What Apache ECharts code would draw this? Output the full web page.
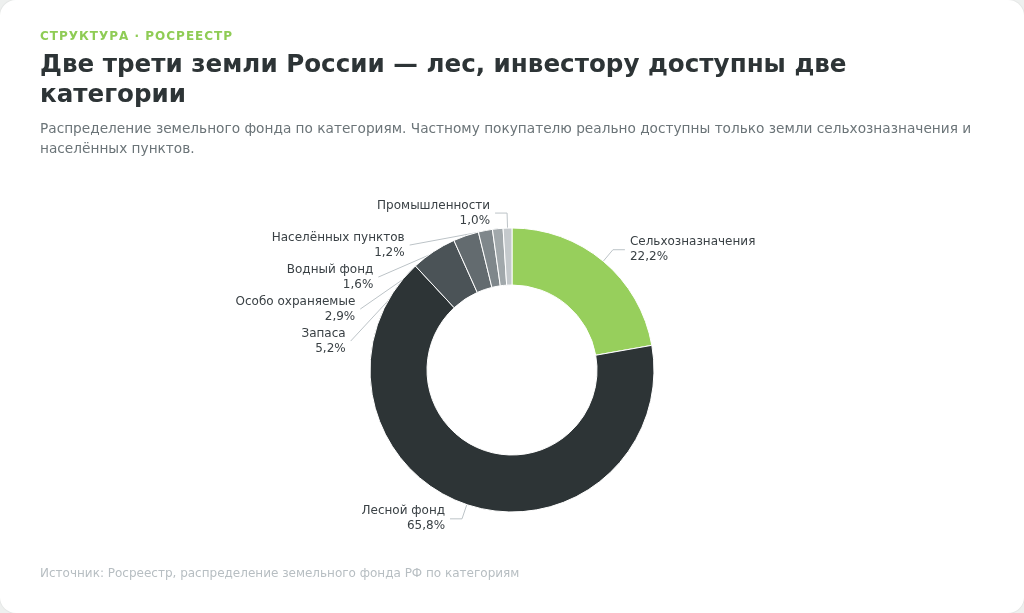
<!DOCTYPE html>
<html lang="ru">
<head>
<meta charset="utf-8">
<script src="https://cdn.jsdelivr.net/npm/echarts@6/dist/echarts.min.js"></script>
<style>
  html, body { margin: 0; padding: 0; background: #eef0ef; }
  body { width: 1024px; height: 613px; font-family: 'DejaVu Sans', sans-serif; }
  .card {
    position: absolute; left: 0; top: 0; width: 1024px; height: 613px;
    background: #fff; border-radius: 16px; box-sizing: border-box;
    box-shadow: 0 0 0 1px #e6e8e7;
  }
  .kicker {
    position: absolute; left: 40px; top: 29px;
    font-size: 12px; font-weight: bold; letter-spacing: 1px; color: #8fcc55;
  }
  .title {
    position: absolute; left: 40px; top: 49px; width: 944px;
    font-size: 24.6px; font-weight: bold; line-height: 30px; color: #2d3436;
  }
  .sub {
    position: absolute; left: 40px; top: 118px; width: 960px;
    font-size: 13.7px; line-height: 20px; color: #6b7478;
  }
  .foot {
    position: absolute; left: 40px; top: 566px;
    font-size: 12px; color: #b7bec2;
  }
  #chart { position: absolute; left: 0; top: 0; width: 1024px; height: 613px; }
</style>
</head>
<body>
<div class="card"></div>
<div id="chart"></div>
<div class="kicker">СТРУКТУРА · РОСРЕЕСТР</div>
<div class="title">Две трети земли России — лес, инвестору доступны две категории</div>
<div class="sub">Распределение земельного фонда по категориям. Частному покупателю реально доступны только земли сельхозназначения и населённых пунктов.</div>
<div class="foot">Источник: Росреестр, распределение земельного фонда РФ по категориям</div>
<script>
// land categories, share of total land fund, %
var categories = ['Сельхозназначения', 'Лесной фонд', 'Запаса', 'Особо охраняемые', 'Водный фонд', 'Населённых пунктов', 'Промышленности'];
var shares = [22.2, 65.8, 5.2, 2.9, 1.6, 1.2, 1.0];
var colors = ['#97cf5c', '#2d3436', '#4b5357', '#636b6f', '#7f878b', '#a1a8ab', '#c4c9cc'];

var chartDom = document.getElementById('chart');
var myChart = echarts.init(chartDom);
var option;

option = {
  animation: false,
  textStyle: { fontFamily: 'DejaVu Sans' },
  series: [
    {
      type: 'pie',
      center: [512, 370],
      radius: [85, 142],
      startAngle: 90,
      clockwise: true,
      itemStyle: { borderColor: '#fff', borderWidth: 1 },
      label: {
        fontSize: 12,
        lineHeight: 15,
        color: '#3a4145',
        formatter: function (p) {
          return p.name + '\n' + p.value.toFixed(1).replace('.', ',') + '%';
        }
      },
      labelLine: {
        length: 15,
        length2: 12,
        lineStyle: { color: '#bcc3c7', width: 1 }
      },
      data: categories.map(function (c, i) {
        return { name: c, value: shares[i], itemStyle: { color: colors[i] } };
      })
    }
  ]
};

option && myChart.setOption(option);
</script>
</body>
</html>
